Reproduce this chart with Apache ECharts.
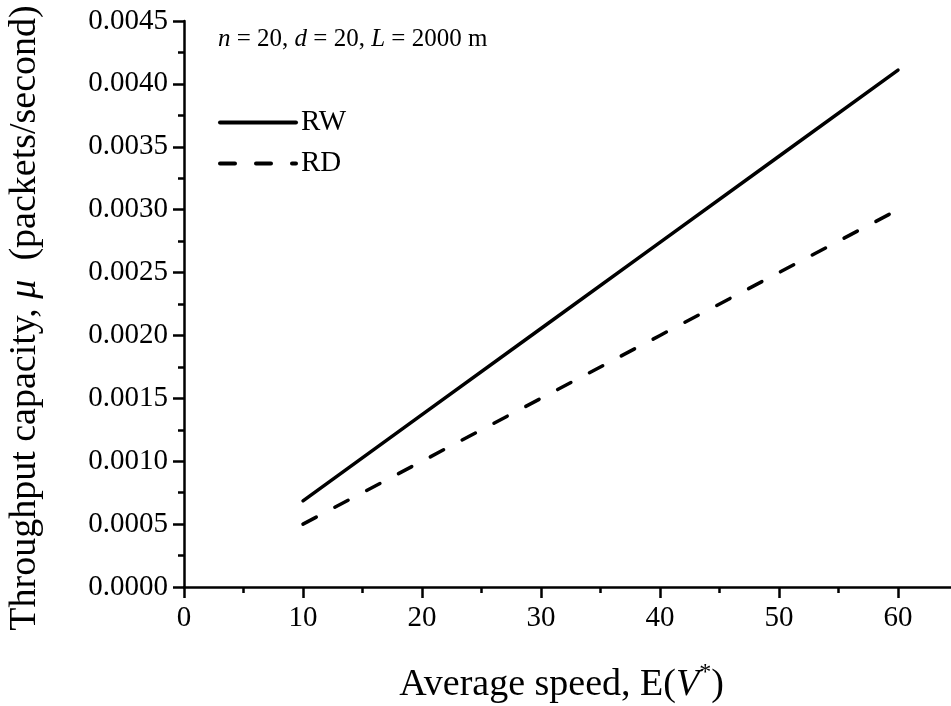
<!DOCTYPE html>
<html>
<head>
<meta charset="utf-8">
<script src="https://cdn.jsdelivr.net/npm/echarts@6/dist/echarts.min.js"></script>
<style>
html, body { margin: 0; padding: 0; background: #fff; }
#main { width: 951px; height: 706px; }
</style>
</head>
<body>
<div id="main"></div>
<script>
// data
var speeds = [10, 20, 30, 40, 50, 60];
var rwValues = [0.000685, 0.00137, 0.002055, 0.00274, 0.003425, 0.00411];
var rdValues = [0.0005, 0.0010, 0.0015, 0.0020, 0.0025, 0.0030];
var seriesNames = ['RW', 'RD'];

var font = 'Liberation Serif, Times New Roman, serif';

function pairs(xs, ys) {
    var out = [];
    for (var i = 0; i < xs.length; i++) {
        out.push([xs[i], ys[i]]);
    }
    return out;
}

var chart = echarts.init(document.getElementById('main'));
var option = {
    backgroundColor: '#fff',
    animation: false,
    grid: {
        left: 184,
        top: 21,
        bottom: 119,
        right: -66,
        outerBoundsMode: 'none'
    },
    legend: {
        orient: 'vertical',
        left: 213,
        top: 103,
        itemWidth: 76,
        itemHeight: 14,
        itemGap: 12,
        data: seriesNames,
        itemStyle: { opacity: 0 },
        lineStyle: { width: 4 },
        textStyle: { fontFamily: font, fontSize: 29, color: '#000', lineHeight: 29 }
    },
    graphic: [
        {
            type: 'text',
            left: 218,
            top: 27,
            style: {
                text: '{i|n}{r| = 20, }{i|d}{r| = 20, }{i|L}{r| = 2000 m}',
                rich: {
                    i: { fontFamily: font, fontSize: 25, fontStyle: 'italic', fill: '#000' },
                    r: { fontFamily: font, fontSize: 25, fill: '#000' }
                }
            }
        }
    ],
    xAxis: {
        type: 'value',
        min: 0,
        max: 70,
        interval: 10,
        name: '{n|Average speed, E(}{i|V}{s|*}{n|)}',
        nameLocation: 'middle',
        nameGap: 74,
        nameTextStyle: {
            padding: [0, 78, 0, 0],
            rich: {
                n: { fontFamily: font, fontSize: 38, color: '#000' },
                i: { fontFamily: font, fontSize: 38, fontStyle: 'italic', color: '#000' },
                s: { fontFamily: font, fontSize: 24, color: '#000', verticalAlign: 'top', padding: [0, 0, 24, 0] }
            }
        },
        axisLine: { lineStyle: { color: '#000', width: 2.5 } },
        axisTick: { length: 11, lineStyle: { color: '#000', width: 2.5 } },
        minorTick: { show: true, splitNumber: 2, length: 6, lineStyle: { color: '#000', width: 2.5 } },
        axisLabel: { fontFamily: font, fontSize: 29, color: '#000', margin: 17, showMaxLabel: false },
        splitLine: { show: false }
    },
    yAxis: {
        type: 'value',
        min: 0,
        max: 0.0045,
        interval: 0.0005,
        name: '{n|Throughput capacity, }{i|μ}{n|  (packets/second)}',
        nameLocation: 'middle',
        nameGap: 140,
        nameTextStyle: {
            padding: [0, 28, 0, 0],
            rich: {
                n: { fontFamily: font, fontSize: 38, color: '#000' },
                i: { fontFamily: font, fontSize: 38, fontStyle: 'italic', color: '#000' }
            }
        },
        axisLine: { lineStyle: { color: '#000', width: 2.5 } },
        axisTick: { length: 11, lineStyle: { color: '#000', width: 2.5 } },
        minorTick: { show: true, splitNumber: 2, length: 6, lineStyle: { color: '#000', width: 2.5 } },
        axisLabel: {
            fontFamily: font, fontSize: 29, color: '#000', margin: 16,
            formatter: function (v) { return v.toFixed(4); }
        },
        splitLine: { show: false }
    },
    series: [
        {
            name: seriesNames[0],
            type: 'line',
            symbol: 'none',
            data: pairs(speeds, rwValues),
            lineStyle: { color: '#000', width: 3.5, cap: 'round' },
            itemStyle: { color: '#000' }
        },
        {
            name: seriesNames[1],
            type: 'line',
            symbol: 'none',
            data: pairs(speeds, rdValues),
            lineStyle: { color: '#000', width: 3.5, type: [15, 21], cap: 'round' },
            itemStyle: { color: '#000' }
        }
    ]
};
chart.setOption(option);
</script>
</body>
</html>
